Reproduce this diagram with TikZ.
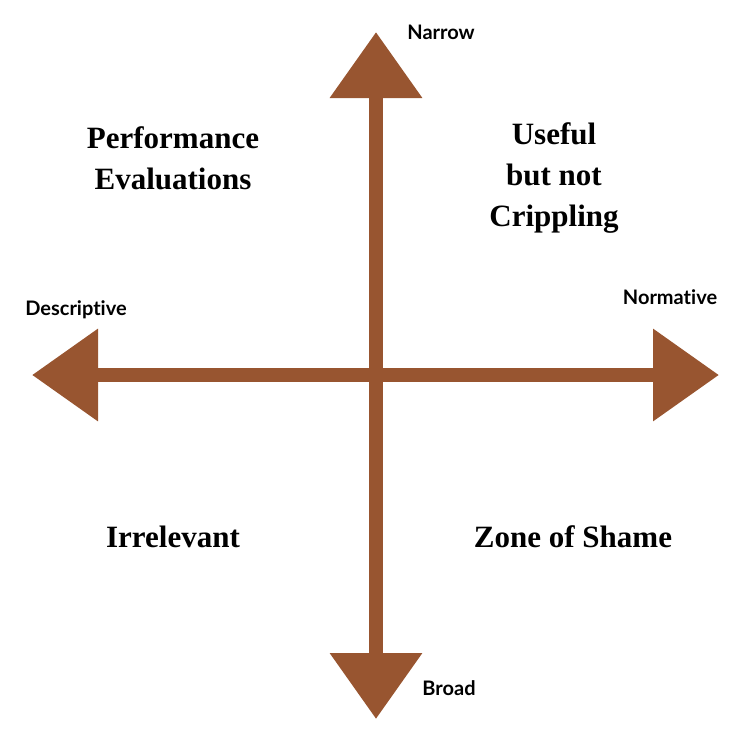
\documentclass[tikz,border=0pt]{standalone}
\usepackage{fontspec}
\setmainfont{Liberation Serif}
\newfontfamily\axisfont[Ligatures=NoCommon]{Lato}
\usetikzlibrary{arrows.meta}
\definecolor{axisbrown}{RGB}{152,85,48}
\tikzset{>={Triangle[length=66pt,width=89pt]}}

\begin{document}
\begin{tikzpicture}[x=1pt,y=-1pt,
    axis/.style={<->,line width=14pt,axisbrown},
    pole/.style={font=\axisfont\bfseries\fontsize{20}{22}\selectfont},
    quadrant/.style={align=center,font=\bfseries\fontsize{31}{41}\selectfont}]
  \useasboundingbox (0,0) rectangle (750,750);
  % axis ends
  \coordinate (west)  at (32,375);
  \coordinate (east)  at (719,375);
  \coordinate (north) at (376,32);
  \coordinate (south) at (376,719);
  % axes
  \draw[axis] (west) -- (east);
  \draw[axis] (south) -- (north);
  % pole labels
  \node[pole] (narrow)      at (441,32)  {Narrow};
  \node[pole] (broad)       at (449,688) {Broad};
  \node[pole] (descriptive) at (76,310)  {Descriptive};
  \node[pole] (normative)   at (670,297) {Normative};
  % quadrants
  \node[quadrant] (perf)    at (173,158) {Performance\\Evaluations};
  \node[quadrant] (useful)  at (554,178) {Useful\\but not\\Crippling};
  \node[quadrant] (irrel)   at (173,537) {Irrelevant};
  \node[quadrant] (shame)   at (573,537) {Zone of Shame};
\end{tikzpicture}
\end{document}
